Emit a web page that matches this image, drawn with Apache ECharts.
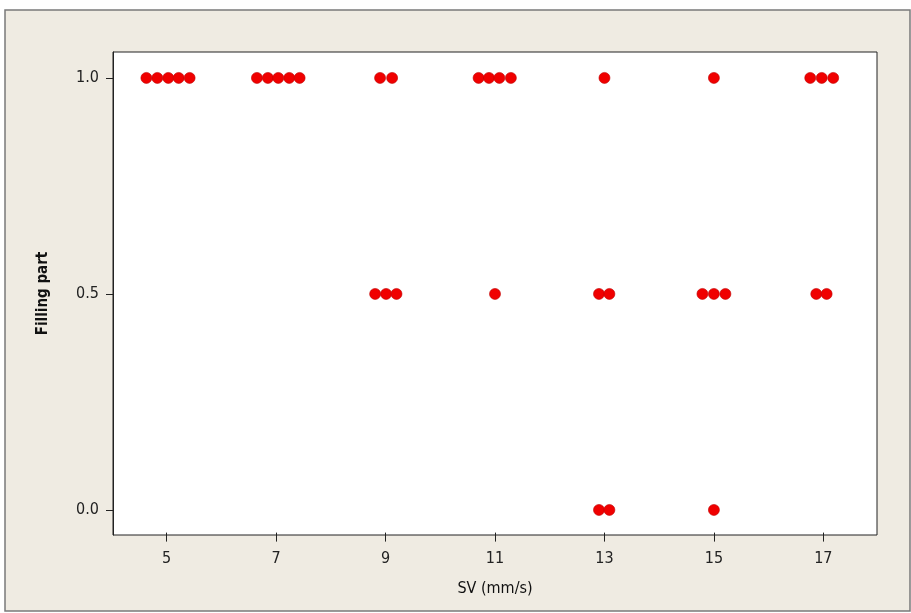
<!DOCTYPE html>
<html>
<head>
<meta charset="utf-8">
<script src="https://cdn.jsdelivr.net/npm/echarts@6/dist/echarts.min.js"></script>
<style>
  html, body { margin: 0; padding: 0; background: #fff; }
  #chart { width: 911px; height: 613px; }
</style>
</head>
<body>
<div id="chart"></div>
<script>
// SV values (jittered as in the plot) for each filling-part level
const svAtOne = [4.63, 4.83, 5.03, 5.22, 5.42, 6.65, 6.85, 7.04, 7.24, 7.43, 8.9, 9.12,
  10.7, 10.89, 11.08, 11.29, 13.0, 15.0, 16.76, 16.97, 17.18]
const svAtHalf = [8.81, 9.01, 9.2, 11.0, 12.9, 13.09, 14.79, 15.0, 15.21, 16.87, 17.06]
const svAtZero = [12.9, 13.09, 15.0]

const xTicks = [5, 7, 9, 11, 13, 15, 17]
const yTicks = [0, 0.5, 1]

const points = [
  ...svAtOne.map(x => [x, 1]),
  ...svAtHalf.map(x => [x, 0.5]),
  ...svAtZero.map(x => [x, 0])
]

const font = 'DejaVu Sans Condensed'

const chart = echarts.init(document.getElementById('chart'))
chart.setOption({
  animation: false,
  backgroundColor: '#ffffff',
  graphic: [{
    type: 'rect', z: -10,
    shape: { x: 5, y: 10, width: 905, height: 601 },
    style: { fill: '#efebe2', stroke: '#7a7a7a', lineWidth: 1.5 }
  }],
  grid: {
    left: 113, right: 34, top: 52, bottom: 78,
    show: true, backgroundColor: '#ffffff', borderColor: '#222', borderWidth: 1
  },
  xAxis: {
    type: 'value', min: 4.02, max: 17.98,
    name: 'SV (mm/s)', nameLocation: 'middle', nameGap: 46,
    nameTextStyle: { fontFamily: font, fontSize: 16, color: '#111' },
    // ride on the zero of a hidden helper y axis, just above the bottom edge
    axisLine: { show: false, onZero: true, onZeroAxisIndex: 1 },
    axisTick: { show: true, customValues: xTicks, length: 9, lineStyle: { color: '#222' } },
    axisLabel: {
      customValues: xTicks, fontFamily: font, fontSize: 16, color: '#222', margin: 16
    },
    splitLine: { show: false }
  },
  yAxis: [{
    type: 'value', min: -0.058, max: 1.06, position: 'left',
    name: 'Filling part', nameLocation: 'middle', nameGap: 62,
    nameTextStyle: { fontFamily: font, fontWeight: 'bold', fontSize: 15, color: '#111' },
    axisLine: { show: true, lineStyle: { color: '#222' } },
    axisTick: { show: true, customValues: yTicks, length: 7, lineStyle: { color: '#222' } },
    axisLabel: {
      customValues: yTicks, formatter: v => v.toFixed(1),
      fontFamily: font, fontSize: 16, color: '#222', margin: 14
    },
    splitLine: { show: false }
  }, {
    type: 'value', min: -0.005, max: 1, show: false
  }],
  series: [{
    type: 'scatter',
    data: points,
    symbol: 'circle',
    symbolSize: 11,
    itemStyle: { color: '#f00000', borderColor: '#c00000', borderWidth: 0.6, opacity: 1 }
  }]
})
</script>
</body>
</html>
